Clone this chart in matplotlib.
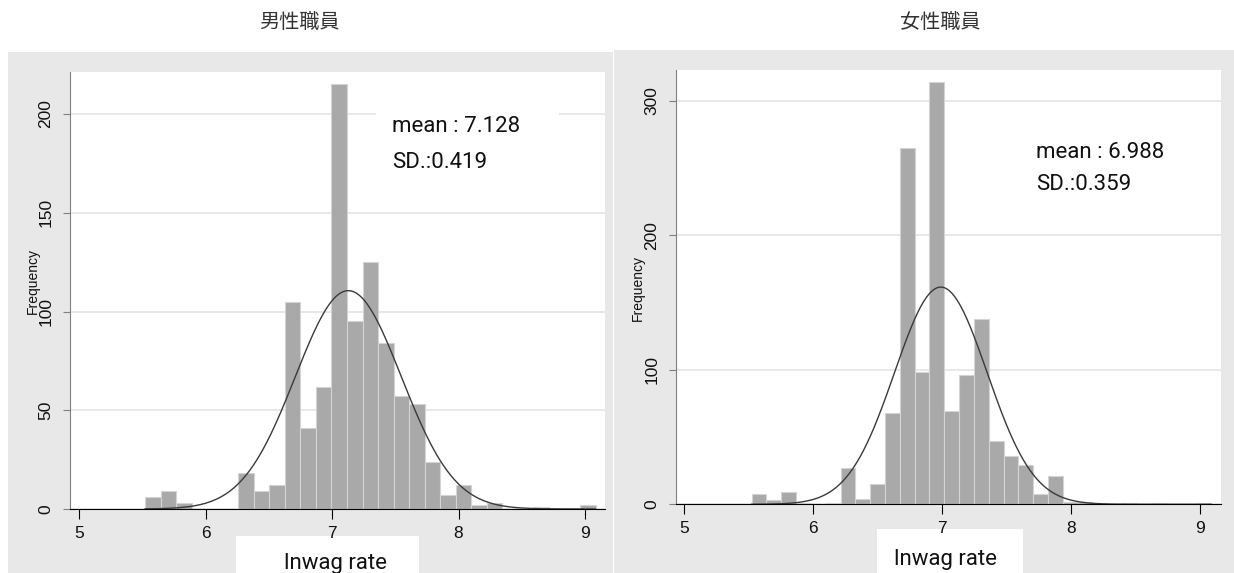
import numpy as np
import matplotlib.pyplot as plt
from matplotlib.patches import Rectangle

# --------------------------------------------------
# data
# --------------------------------------------------
xticks = [5, 6, 7, 8, 9]

male_title = "男性職員"
male_bin_start = 5.52
male_bin_width = 0.1229
male_counts = [6, 9, 3, 0, 0, 0, 18, 9, 12, 105, 41, 62, 215, 95, 125,
               84, 57, 53, 24, 7, 12, 2, 3, 0, 0, 1, 0, 0, 2]
male_mean = 7.128
male_sd = 0.419
male_yticks = [0, 50, 100, 150, 200]

female_title = "女性職員"
female_bin_start = 5.521
female_bin_width = 0.1149
female_counts = [8, 3, 9, 1, 0, 1, 27, 4, 15, 68, 265, 98, 314, 69, 96,
                 138, 47, 36, 29, 8, 21, 2, 2, 0, 0, 1, 0, 1, 0, 0, 1]
female_mean = 6.988
female_sd = 0.359
female_yticks = [0, 100, 200, 300]

# --------------------------------------------------
# layout helpers (pixel -> figure fraction)
# --------------------------------------------------
W, H = 1234, 573
GRAY_BG = '#e8e8e8'
BAR = '#a9a9a9'
TXT_FONT = ['Roboto', 'DejaVu Sans']
CJK_FONT = ['Noto Sans CJK JP', 'DejaVu Sans']

plt.rcParams['font.family'] = ['Liberation Sans', 'DejaVu Sans']


def fx(x):
    return x / W


def fy(y):
    return 1 - y / H


def add_fig_rect(fig, x0, y0, x1, y1, color, z):
    fig.patches.append(Rectangle((fx(x0), fy(y1)), (x1 - x0) / W, (y1 - y0) / H,
                                 transform=fig.transFigure, facecolor=color,
                                 edgecolor='none', zorder=z))


fig = plt.figure(figsize=(W / 100, H / 100), dpi=100)
fig.patch.set_facecolor('white')

panels = [
    dict(title=male_title, start=male_bin_start, width=male_bin_width,
         counts=male_counts, mean=male_mean, sd=male_sd, yticks=male_yticks,
         bg=(8, 52, 613, 573), box=(70, 72, 605, 509), title_x=299,
         ylab=(33, 281), lab_box=(236, 536, 419, 573), lab=(336, 569),
         note=(392, 127, 162), mask=(376, 559),
         xlim=(4.926, 9.159), ylim=(0, 221.3)),
    dict(title=female_title, start=female_bin_start, width=female_bin_width,
         counts=female_counts, mean=female_mean, sd=female_sd, yticks=female_yticks,
         bg=(614, 50, 1234, 573), box=(676, 70, 1221, 504.3), title_x=940,
         ylab=(638, 288), lab_box=(877, 529, 1023, 573), lab=(946, 565),
         note=(1036, 152, 185), mask=None,
         xlim=(4.935, 9.160), ylim=(0, 322.7)),
]

for p in panels:
    add_fig_rect(fig, *p['bg'], GRAY_BG, -2)

    x0, y0, x1, y1 = p['box']
    ax = fig.add_axes([fx(x0), fy(y1), (x1 - x0) / W, (y1 - y0) / H])
    ax.set_zorder(1)
    ax.set_facecolor('white')

    counts = np.array(p['counts'], dtype=float)
    edges = p['start'] + p['width'] * np.arange(len(counts) + 1)
    ax.bar(edges[:-1], counts, width=p['width'], align='edge', color=BAR,
           edgecolor='#d4d4d4', linewidth=0.8, zorder=2)

    # normal density scaled to frequencies
    n = counts.sum()
    xs = np.linspace(edges[0], edges[-1], 400)
    ys = n * p['width'] * np.exp(-0.5 * ((xs - p['mean']) / p['sd']) ** 2) / (p['sd'] * np.sqrt(2 * np.pi))
    ax.plot(xs, ys, color='#3a3a3a', lw=1.0, zorder=3)

    ax.set_xlim(*p['xlim'])
    ax.set_ylim(*p['ylim'])

    ax.set_xticks(xticks)
    ax.set_yticks(p['yticks'])
    ax.yaxis.grid(True, color='#e6e6e6', lw=1.3)
    ax.set_axisbelow(True)

    for s in ('top', 'right'):
        ax.spines[s].set_visible(False)
    ax.spines['left'].set_color('#808080')
    ax.spines['bottom'].set_color('black')
    ax.spines['bottom'].set_zorder(4)

    ax.tick_params(axis='x', length=7, color='black', labelsize=12.5, pad=5, labelcolor='#111111')
    ax.tick_params(axis='y', length=5, color='#808080', labelsize=12.5, pad=7,
                   labelrotation=90, labelcolor='#111111')
    for lab in ax.get_yticklabels():
        lab.set_va('center')

    if p['mask'] is not None:
        mx0, mx1 = p['mask']
        ax.add_patch(Rectangle(((mx0 - x0) / (x1 - x0), 0.75), (mx1 - mx0) / (x1 - x0), 0.2,
                               transform=ax.transAxes, facecolor='white',
                               edgecolor='none', zorder=1))

    # annotation
    tx, ty1, ty2 = p['note']
    fig.text(fx(tx), fy(ty1), f"mean : {p['mean']:.3f}", family=TXT_FONT,
             fontsize=16, va='center', ha='left', color='#111111', zorder=5)
    fig.text(fx(tx), fy(ty2), f"SD.:{p['sd']:.3f}", family=TXT_FONT,
             fontsize=16, va='center', ha='left', color='#111111', zorder=5)

    # y label
    fig.text(fx(p['ylab'][0]), fy(p['ylab'][1]), 'Frequency', rotation=90,
             fontsize=10, ha='center', va='center', color='#111111')

    # x label in white box
    add_fig_rect(fig, *p['lab_box'], 'white', -1)
    fig.text(fx(p['lab'][0]), fy(p['lab'][1]), 'lnwag rate', family=TXT_FONT,
             fontsize=16, ha='center', va='baseline', color='#111111')

    # panel title
    fig.text(fx(p['title_x']), fy(22), p['title'], family=CJK_FONT,
             fontsize=14.5, ha='center', va='center', color='#333333')

fig.savefig('out.png', dpi=100)
